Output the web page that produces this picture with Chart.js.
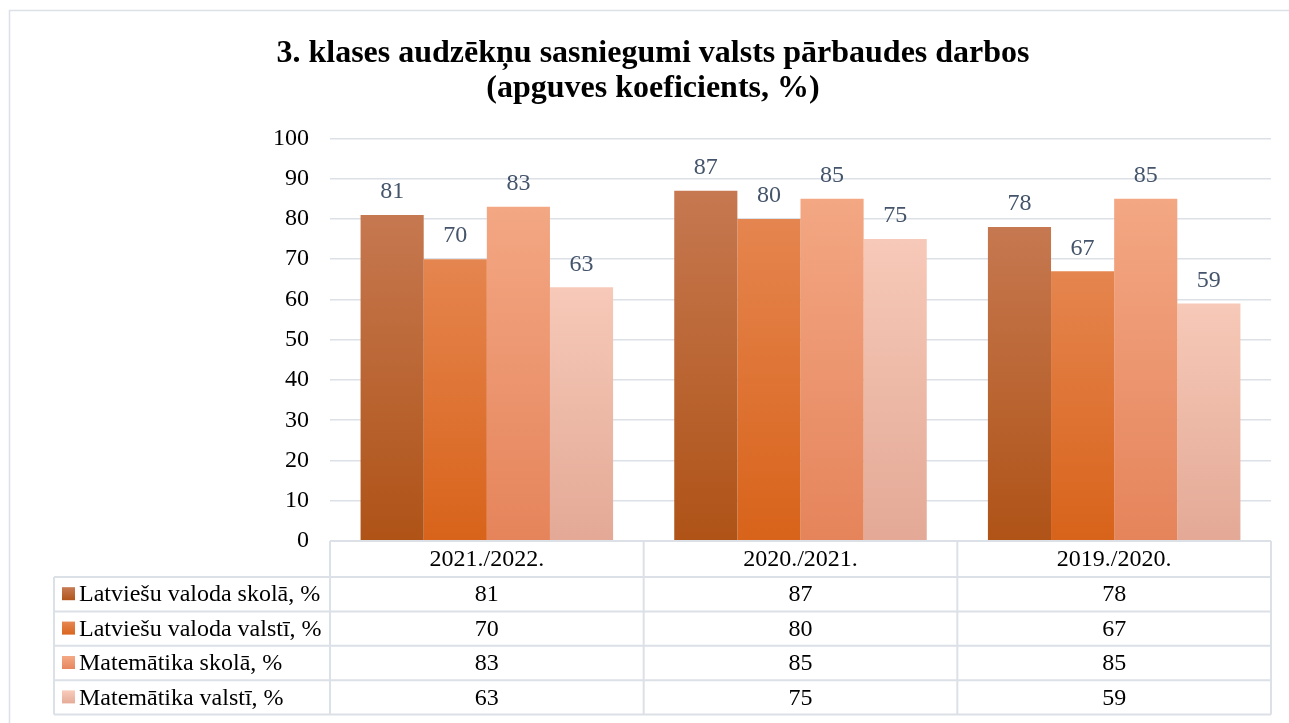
<!DOCTYPE html>
<html lang="lv">
<head>
<meta charset="utf-8">
<title>3. klases audzēkņu sasniegumi</title>
<script src="https://cdn.jsdelivr.net/npm/chart.js@4/dist/chart.umd.min.js"></script>
<style>
	html, body { margin: 0; padding: 0; background: #fff; }
	#wrap { width: 1289px; height: 723px; }
</style>
</head>
<body>
<div id="wrap"><canvas id="chart" width="1289" height="723"></canvas></div>
<script>
/* ── dati ── */
const categories  = ['2021./2022.', '2020./2021.', '2019./2020.'];
const seriesNames = ['Latviešu valoda skolā, %', 'Latviešu valoda valstī, %', 'Matemātika skolā, %', 'Matemātika valstī, %'];
const latvSkola   = [81, 87, 78];
const latvValsti  = [70, 80, 67];
const matSkola    = [83, 85, 85];
const matValsti   = [63, 75, 59];
const yMin = 0, yMax = 100, yStep = 10;

/* ── krāsas (augša → apakša) ── */
const gradStops = [
	['#C67850', '#AF5317'],
	['#E5854F', '#D8631A'],
	['#F3A783', '#E5845B'],
	['#F7C9B8', '#E3A996']
];
const FONT = '"Liberation Serif", "Times New Roman", serif';
const GRID = '#DCE0E7';

function barFill(ctx, i) {
	const chart = ctx.chart;
	const area  = chart.chartArea;
	if (!area || ctx.raw === undefined) return gradStops[i][0];
	const yTop = chart.scales.y.getPixelForValue(ctx.raw);
	const g = chart.ctx.createLinearGradient(0, yTop, 0, area.bottom);
	g.addColorStop(0, gradStops[i][0]);
	g.addColorStop(1, gradStops[i][1]);
	return g;
}

const seriesData = [latvSkola, latvValsti, matSkola, matValsti];

/* ── rāmis ap visu diagrammu ── */
const framePlugin = {
	id: 'frame',
	beforeDraw(chart) {
		const c = chart.ctx;
		c.save();
		c.fillStyle = '#fff';
		c.fillRect(0, 0, chart.width, chart.height);
		c.strokeStyle = GRID;
		c.lineWidth = 1.5;
		c.strokeRect(9.5, 10.5, chart.width + 20, chart.height + 20);
		c.restore();
	}
};

/* ── vērtības virs stabiņiem ── */
const labelPlugin = {
	id: 'barLabels',
	afterDatasetsDraw(chart) {
		const c = chart.ctx;
		c.save();
		c.font = '24px ' + FONT;
		c.fillStyle = '#44546A';
		c.textAlign = 'center';
		c.textBaseline = 'middle';
		chart.data.datasets.forEach(function(ds, i) {
			chart.getDatasetMeta(i).data.forEach(function(bar, j) {
				c.fillText(String(ds.data[j]), bar.x, bar.y - 23);
			});
		});
		c.restore();
	}
};

/* ── datu tabula zem ass ── */
const tablePlugin = {
	id: 'dataTable',
	afterDraw(chart) {
		const c = chart.ctx, a = chart.chartArea, xs = chart.scales.x;
		const colW   = (a.right - a.left) / categories.length;
		const keyCol = 54;
		const headH  = 36, rowH = 34.4;
		const bodyTop = a.bottom + headH;
		const bottom  = bodyTop + rowH * seriesNames.length;

		c.save();
		c.strokeStyle = GRID;
		c.lineWidth = 2;
		c.beginPath();
		// horizontālās līnijas
		c.moveTo(a.left, a.bottom); c.lineTo(a.right, a.bottom);
		for (let r = 0; r <= seriesNames.length; r++) {
			const y = bodyTop + r * rowH;
			c.moveTo(keyCol, y); c.lineTo(a.right, y);
		}
		// vertikālās līnijas
		c.moveTo(keyCol, bodyTop); c.lineTo(keyCol, bottom);
		for (let k = 0; k <= categories.length; k++) {
			const x = a.left + k * colW;
			c.moveTo(x, a.bottom); c.lineTo(x, bottom);
		}
		c.stroke();

		c.font = '24px ' + FONT;
		c.fillStyle = '#000';
		c.textBaseline = 'middle';
		c.textAlign = 'center';
		categories.forEach(function(cat, k) {
			c.fillText(cat, xs.getPixelForValue(k), a.bottom + headH / 2 + 1);
		});
		seriesNames.forEach(function(name, r) {
			const yMid = bodyTop + r * rowH + rowH / 2 + 1;
			seriesData[r].forEach(function(v, k) {
				c.textAlign = 'center';
				c.fillText(String(v), xs.getPixelForValue(k), yMid);
			});
			// krāsas atslēga
			const g = c.createLinearGradient(0, yMid - 7, 0, yMid + 6);
			g.addColorStop(0, gradStops[r][0]);
			g.addColorStop(1, gradStops[r][1]);
			c.fillStyle = g;
			c.fillRect(62, yMid - 8, 13, 13);
			c.fillStyle = '#000';
			c.textAlign = 'left';
			c.fillText(name, 79, yMid);
		});
		c.restore();
	}
};

new Chart(document.getElementById('chart'), {
	type: 'bar',
	data: {
		labels: categories,
		datasets: seriesNames.map(function(name, i) {
			return {
				label: name,
				data: seriesData[i],
				backgroundColor: function(ctx) { return barFill(ctx, i); },
				borderWidth: 0,
				categoryPercentage: 0.805,
				barPercentage: 1.0
			};
		})
	},
	options: {
		responsive: false,
		animation: false,
		layout: { padding: { top: 0, left: 35, right: 18, bottom: 182 } },
		plugins: {
			legend: { display: false },
			tooltip: { enabled: false },
			title: {
				display: true,
				text: ['3. klases audzēkņu sasniegumi valsts pārbaudes darbos', '(apguves koeficients, %)'],
				color: '#000',
				font: { family: FONT, size: 32, weight: 'bold', lineHeight: 1.1 },
				padding: { top: 36, bottom: 32 }
			}
		},
		scales: {
			x: { display: false },
			y: {
				min: yMin,
				max: yMax,
				afterFit: function(scale) { scale.width = 295; },
				border: { display: false },
				grid: { color: GRID, lineWidth: 1.5, drawTicks: false },
				ticks: {
					stepSize: yStep,
					padding: 21,
					color: '#000',
					font: { family: FONT, size: 24 }
				}
			}
		}
	},
	plugins: [framePlugin, labelPlugin, tablePlugin]
});
</script>
</body>
</html>
